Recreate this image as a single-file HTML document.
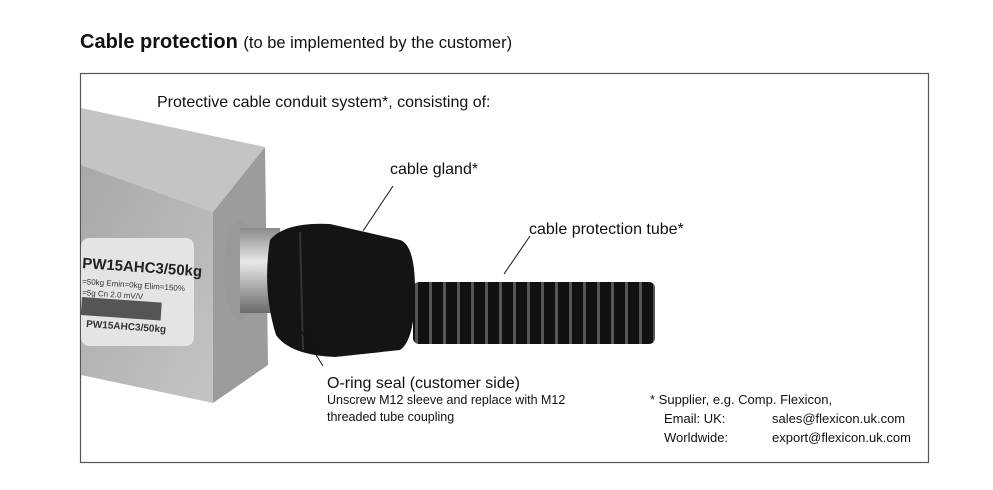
<!DOCTYPE html>
<html><head><meta charset="utf-8"><style>
body{margin:0;background:#fff;width:993px;height:485px;overflow:hidden;font-family:"Liberation Sans",Arial,sans-serif;}
</style></head><body>
<svg width="993" height="485" xmlns="http://www.w3.org/2000/svg" font-family="Liberation Sans, Arial, sans-serif">
<defs>
<linearGradient id="shaft" x1="0" y1="0" x2="0" y2="1"><stop offset="0" stop-color="#8a8a8a"/><stop offset="0.4" stop-color="#e8e8e8"/><stop offset="1" stop-color="#6a6a6a"/></linearGradient>
<linearGradient id="side" x1="0" y1="0" x2="1" y2="1"><stop offset="0" stop-color="#a8a8a8"/><stop offset="1" stop-color="#c4c4c4"/></linearGradient>
<pattern id="rib" width="14" height="80" patternUnits="userSpaceOnUse"><rect width="14" height="80" fill="#111"/><rect x="9" width="3" height="80" fill="#555"/></pattern>
</defs>
<text x="80" y="48" font-size="20" font-weight="bold" fill="#111">Cable protection <tspan font-size="16.5" font-weight="normal">(to be implemented by the customer)</tspan></text>
<rect x="80.5" y="73.5" width="848" height="389" fill="none" stroke="#555" stroke-width="1.2"/>
<polygon points="81,108 265,147 213,212 81,165" fill="#c4c4c4"/>
<polygon points="81,165 213,212 213,403 81,375" fill="url(#side)"/>
<polygon points="213,212 265,147 268,365 213,403" fill="#9c9c9c"/>
<rect x="81" y="238" width="113" height="108" rx="8" fill="#e4e4e4"/>
<text x="82" y="268" font-size="15" font-weight="bold" fill="#222" transform="rotate(4 82 268)">PW15AHC3/50kg</text>
<text x="82" y="284" font-size="8" fill="#333" transform="rotate(4 82 284)">=50kg Emin=0kg Elim=150%</text>
<text x="82" y="295" font-size="8" fill="#333" transform="rotate(4 82 295)">=5g Cn 2.0 mV/V</text>
<rect x="82" y="297" width="80" height="18" fill="#555" transform="rotate(4 82 297)"/>
<text x="86" y="327" font-size="10" font-weight="bold" fill="#333" transform="rotate(4 86 327)">PW15AHC3/50kg</text>
<ellipse cx="240" cy="270" rx="16" ry="50" fill="#999"/>
<rect x="240" y="228" width="40" height="85" fill="url(#shaft)"/>
<path d="M270,240 Q285,222 330,224 L400,240 Q415,245 415,290 Q415,340 400,350 L335,357 Q290,355 276,335 Q262,290 270,240Z" fill="#141414"/>
<path d="M300,232 L303,350" stroke="#333" stroke-width="2"/>
<rect x="413" y="282" width="242" height="62" fill="url(#rib)" rx="6"/>
<line x1="393" y1="186" x2="363" y2="231" stroke="#111"/>
<line x1="530" y1="236" x2="504" y2="274" stroke="#111"/>
<line x1="296" y1="323" x2="323" y2="366" stroke="#111"/>
<g fill="#111">
<text x="157" y="107" font-size="16">Protective cable conduit system*, consisting of:</text>
<text x="390" y="174" font-size="16">cable gland*</text>
<text x="529" y="234" font-size="16">cable protection tube*</text>
<text x="327" y="388" font-size="16">O-ring seal (customer side)</text>
<text x="327" y="404" font-size="12.5">Unscrew M12 sleeve and replace with M12</text>
<text x="327" y="421" font-size="12.5">threaded tube coupling</text>
<text x="650" y="404" font-size="13">*  Supplier, e.g. Comp. Flexicon,</text>
<text x="664" y="423" font-size="13">Email:  UK:</text>
<text x="772" y="423" font-size="13">sales@flexicon.uk.com</text>
<text x="664" y="442" font-size="13">Worldwide:</text>
<text x="772" y="442" font-size="13">export@flexicon.uk.com</text>
</g>
</svg>
</body></html>
